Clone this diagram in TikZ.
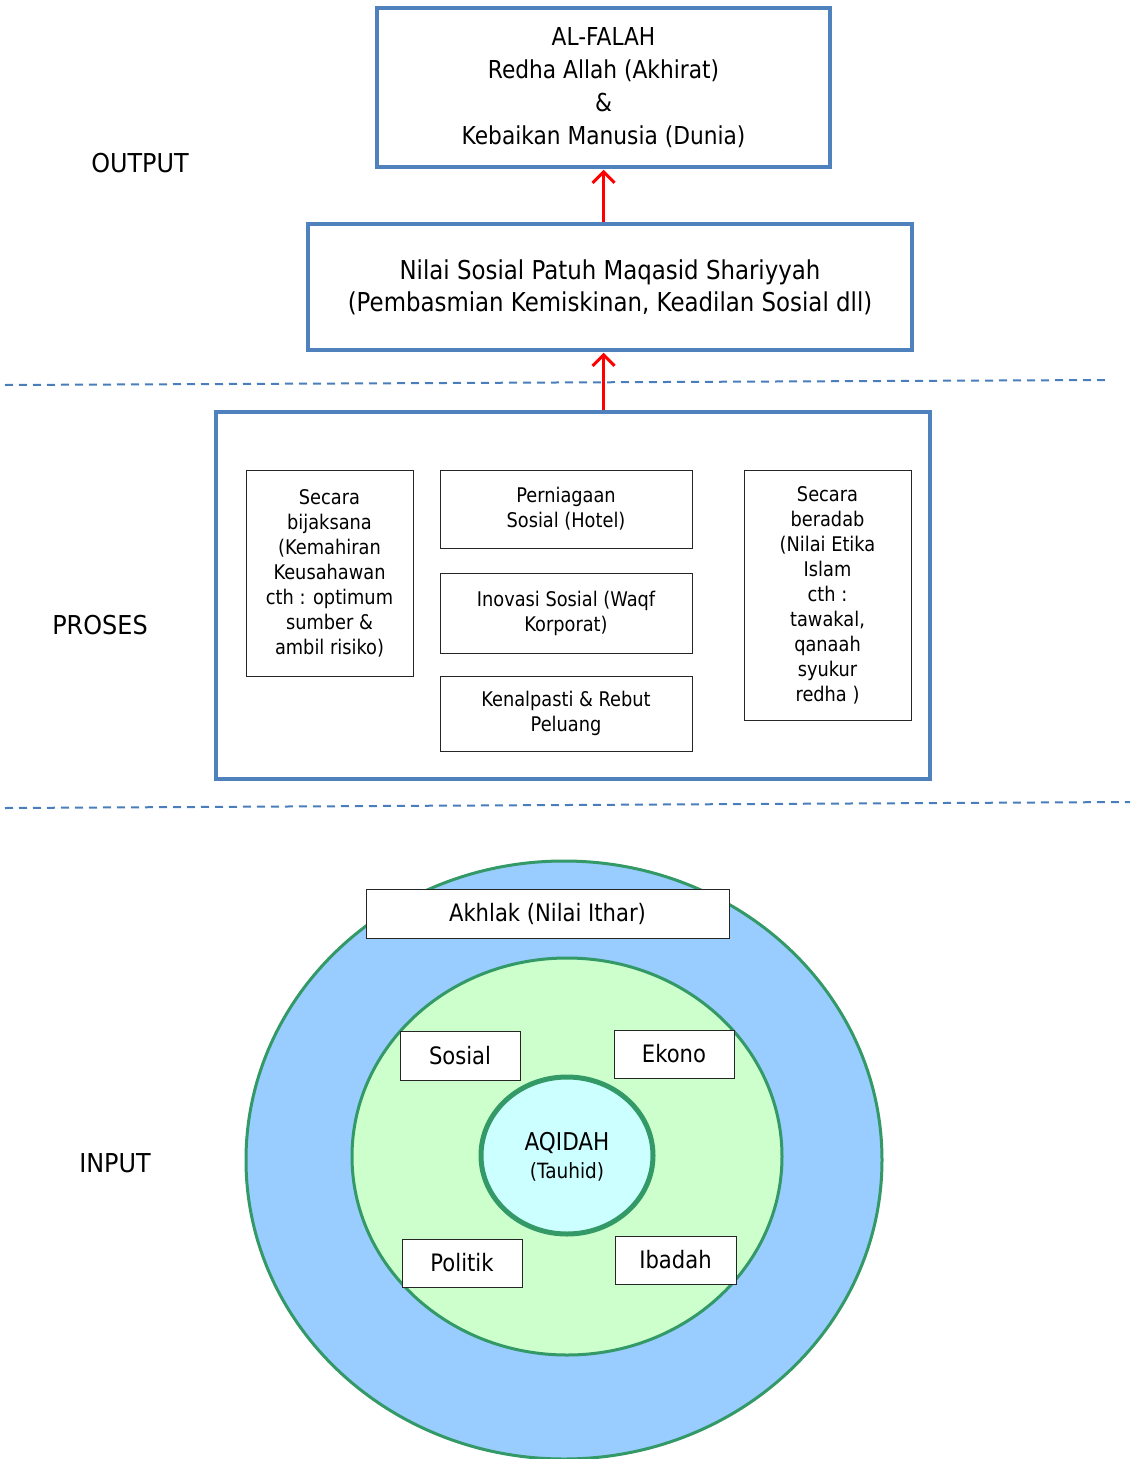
\documentclass[tikz,border=0pt]{standalone}
\usepackage{fontspec}
\setmainfont{DejaVu Sans}[FakeStretch=0.88]
\newfontfamily\widefont{DejaVu Sans}[FakeStretch=0.92]
\usetikzlibrary{arrows.meta}
\definecolor{boxblue}{HTML}{4F81BD}
\definecolor{dashblue}{HTML}{4A7EBB}
\definecolor{ringgreen}{HTML}{339966}
\definecolor{outerfill}{HTML}{99CCFF}
\definecolor{innerfill}{HTML}{CCFFCC}
\definecolor{corefill}{HTML}{CCFFFF}
\tikzset{
  bluebox/.style={draw=boxblue, line width=3.5pt, rectangle, inner sep=0pt, align=center},
  smallbox/.style={draw=black!85, line width=1pt, fill=white, rectangle, inner sep=0pt, align=center},
  boxtext/.style={font=\fontsize{24}{33}\selectfont},
  smalltext/.style={font=\fontsize{20.2}{25}\selectfont},
  sidelabel/.style={font=\widefont\fontsize{26}{30}\selectfont},
  uparrow/.style={draw=red, line width=3pt, -{Straight Barb[length=11pt, width=22pt, line width=3pt]}},
  divider/.style={draw=dashblue, line width=2pt, dash pattern=on 8pt off 6pt},
  ring/.style={draw=ringgreen, line width=3pt},
}
\begin{document}
\begin{tikzpicture}[x=1pt, y=-1pt]
\useasboundingbox (0,0) rectangle (1132,1459);

% labels
\node[sidelabel] (lout) at (140,163) {OUTPUT};
\node[sidelabel] (lpro) at (100,625) {PROSES};
\node[sidelabel] (linp) at (115,1163) {INPUT};

% output boxes
\node[bluebox, font=\fontsize{24.7}{33}\selectfont, minimum width=453pt, minimum height=159pt] (top) at (603.5,87.5)
  {AL-FALAH\\Redha Allah (Akhirat)\\\&\\Kebaikan Manusia (Dunia)};
\node[bluebox, font=\fontsize{26}{32}\selectfont, minimum width=604pt, minimum height=126pt] (nilai) at (610,287)
  {Nilai Sosial Patuh Maqasid Shariyyah\\(Pembasmian Kemiskinan, Keadilan Sosial dll)};

% dividers
\coordinate (d1a) at (5,385);
\coordinate (d1b) at (1105,380);
\coordinate (d2a) at (5,808);
\coordinate (d2b) at (1130,802);
\draw[divider] (d1a) -- (d1b);
\draw[divider] (d2a) -- (d2b);

% process
\node[bluebox, minimum width=714pt, minimum height=367pt] (proc) at (573,595.5) {};
\node[smallbox, smalltext, minimum width=167pt, minimum height=206pt] (pleft) at (329.5,573)
  {Secara\\bijaksana\\(Kemahiran\\Keusahawan\\cth : optimum\\sumber \&\\ambil risiko)};
\node[smallbox, smalltext, minimum width=252pt, minimum height=78pt] (pm1) at (566,509)
  {Perniagaan\\Sosial (Hotel)};
\node[smallbox, smalltext, minimum width=252pt, minimum height=80pt] (pm2) at (566,613)
  {Inovasi Sosial (Waqf\\Korporat)};
\node[smallbox, smalltext, minimum width=252pt, minimum height=75pt] (pm3) at (566,713.5)
  {Kenalpasti \& Rebut\\Peluang};
\node[smallbox, smalltext, minimum width=167pt, minimum height=250pt] (pright) at (827.5,595)
  {Secara\\beradab\\(Nilai Etika\\Islam\\cth :\\tawakal,\\qanaah\\syukur\\redha )};

% arrows
\draw[uparrow, shorten >=1pt] (nilai.north -| top.south) -- (top.south);
\draw[uparrow, shorten >=1pt] (proc.north -| top.south) -- (nilai.south -| top.south);

% input circles
\draw[ring, fill=outerfill] (564,1160) ellipse [x radius=318, y radius=299];
\draw[ring, fill=innerfill] (567,1156.5) ellipse [x radius=215, y radius=198.5];
\draw[draw=ringgreen, line width=5pt, fill=corefill] (567,1155.5) ellipse [x radius=86, y radius=78.5];
\node[align=center, font=\fontsize{24.5}{28}\selectfont] (aqidah) at (567,1157)
  {AQIDAH\\{\fontsize{21}{24}\selectfont (Tauhid)}};

\node[smallbox, boxtext, minimum width=363pt, minimum height=49pt] (akhlak) at (547.5,913.5) {Akhlak (Nilai Ithar)};
\node[smallbox, boxtext, minimum width=120pt, minimum height=49pt] (sosial) at (460,1055.5) {Sosial};
\node[smallbox, boxtext, minimum width=120pt, minimum height=48pt] (ekono) at (674,1054) {Ekono};
\node[smallbox, boxtext, minimum width=120pt, minimum height=48pt] (politik) at (462,1263) {Politik};
\node[smallbox, boxtext, minimum width=121pt, minimum height=48pt] (ibadah) at (675.5,1260) {Ibadah};
\end{tikzpicture}
\end{document}
